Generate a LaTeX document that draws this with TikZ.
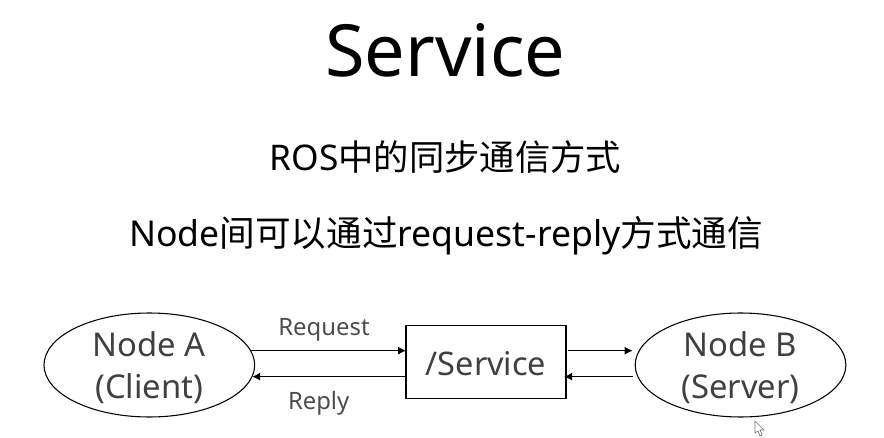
\documentclass[tikz,border=0pt]{standalone}
\usepackage{fontspec}
\setmainfont{Noto Sans}
\newfontfamily\cjk{Noto Sans CJK SC}
\usetikzlibrary{shapes}
\usetikzlibrary{arrows.meta}
\usetikzlibrary{positioning}
\tikzset{
  bignode/.style={draw,ellipse,inner sep=0pt,minimum width=158pt,minimum height=78pt,line width=0.8pt,align=center,text depth=0.6pt,font=\fontsize{24.6}{31.5}\selectfont,text=black!75},
  arrowline/.style={-{Latex[length=6pt,width=6pt]},line width=0.8pt},
  thickarrow/.style={arrowline,line width=1.2pt},
  smalltext/.style={font=\fontsize{17.9}{20}\selectfont,text=black!70}
}
\begin{document}
\begin{tikzpicture}[x=1pt,y=-1pt]
\useasboundingbox (0,0) rectangle (663,328.5);
\node[font=\fontsize{54}{60}\selectfont] (title) at (334,38) {Service};
\node[font=\fontsize{26.5}{32}\selectfont] (line1) at (334,118) {ROS{\cjk 中的同步通信方式}};
\node[font=\fontsize{26.7}{32}\selectfont] (line2) at (334.5,176.5) {Node{\cjk 间可以通过}request-reply{\cjk 方式通信}};

\node[bignode] (a) at (112,273.75) {Node A\\(Client)};
\node[bignode] (b) at (555.4,273.75) {Node B\\(Server)};
\node[draw,line width=0.8pt,minimum width=120pt,minimum height=55pt,text height=20.4pt,text depth=0pt,font=\fontsize{24.4}{30}\selectfont,text=black!75] (s) at (364.5,271.5) {/Service};

\coordinate (a1) at (187.5,263);
\coordinate (a2) at (189,282.5);
\coordinate (s1) at (304.5,263);
\coordinate (s2) at (304.5,282.5);
\coordinate (s3) at (426,263);
\coordinate (s4) at (423,282.5);
\coordinate (b1) at (474.5,263);
\coordinate (b2) at (474.5,282.5);
\draw[arrowline] (a1) -- (s1);
\draw[thickarrow] (s2) -- (a2);
\draw[arrowline] (s3) -- (b1);
\draw[thickarrow] (b2) -- (s4);
\node[smalltext] (req) at (243,247.5) {Request};
\node[smalltext] (rep) at (239,302.8) {Reply};
% pointer
\draw[black!55,line width=0.5pt,fill=white] (566.25,315.75) -- (566.25,324.75) -- (568.5,323.25) -- (570,327) -- (571.5,326.25) -- (570,322.5) -- (573,322.5) -- cycle;
\end{tikzpicture}
\end{document}
